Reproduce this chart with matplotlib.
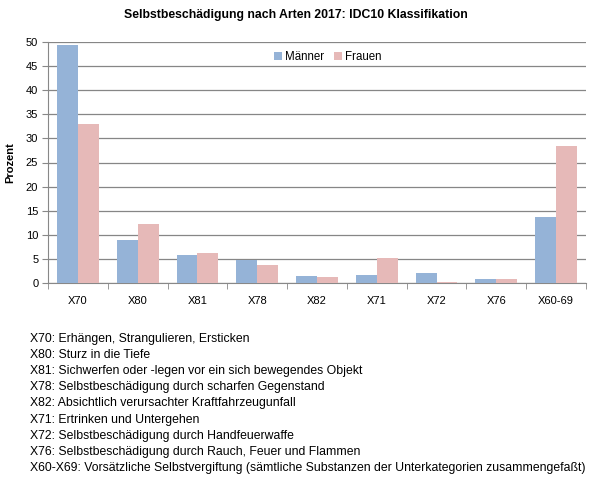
import matplotlib
matplotlib.use("Agg")
import matplotlib.pyplot as plt
import numpy as np

categories = ["X70", "X80", "X81", "X78", "X82", "X71", "X72", "X76", "X60-69"]
maenner = [49.3, 9.0, 5.9, 4.7, 1.5, 1.7, 2.0, 0.75, 13.75]
frauen = [33.0, 12.3, 6.3, 3.8, 1.3, 5.25, 0.3, 0.75, 28.5]
series_names = ["Männer", "Frauen"]
yticks = [0, 5, 10, 15, 20, 25, 30, 35, 40, 45, 50]
notes = [
    "X70: Erhängen, Strangulieren, Ersticken",
    "X80: Sturz in die Tiefe",
    "X81: Sichwerfen oder -legen vor ein sich bewegendes Objekt",
    "X78: Selbstbeschädigung durch scharfen Gegenstand",
    "X82: Absichtlich verursachter Kraftfahrzeugunfall",
    "X71: Ertrinken und Untergehen",
    "X72: Selbstbeschädigung durch Handfeuerwaffe",
    "X76: Selbstbeschädigung durch Rauch, Feuer und Flammen",
    "X60-X69: Vorsätzliche Selbstvergiftung (sämtliche Substanzen der Unterkategorien zusammengefaßt)",
]
title = "Selbstbeschädigung nach Arten 2017: IDC10 Klassifikation"

plt.rcParams['font.family'] = ['Liberation Sans', 'DejaVu Sans']

W, H = 594, 488
fig = plt.figure(figsize=(W / 100, H / 100), dpi=100)
ax = fig.add_axes([48 / W, 1 - 283 / H, (586 - 48) / W, (283 - 42) / H])

blue = "#95B3D7"
pink = "#E6B9B8"
x = np.arange(len(categories))
bw = 0.35
ax.bar(x - bw / 2, maenner, bw, color=blue, label=series_names[0], zorder=3)
ax.bar(x + bw / 2, frauen, bw, color=pink, label=series_names[1], zorder=3)

ax.set_xlim(-0.5, len(categories) - 0.5)
ax.set_ylim(0, 50)
ax.set_yticks(yticks)
ax.set_xticks(x)
ax.set_xticklabels(categories, fontsize=8)
ax.tick_params(axis='x', length=0, pad=9)
ax.set_xticks(np.arange(-0.5, len(categories), 1), minor=True)
ax.tick_params(axis='x', which='minor', length=4, direction='out', color='#888888')
ax.tick_params(axis='y', labelsize=8, length=4, direction='out', color='#888888', pad=3)
ax.yaxis.grid(True, color='#868686', linewidth=0.9, zorder=0)
for s in ['top', 'right']:
    ax.spines[s].set_visible(False)
ax.spines['left'].set_color('#888888')
ax.spines['bottom'].set_color('#888888')
ax.set_ylabel("Prozent", fontsize=8, fontweight='bold', labelpad=8)

leg = ax.legend(loc='upper center', bbox_to_anchor=(0.52, 1.005), ncol=2, frameon=False,
                fontsize=8.3, handlelength=0.7, handleheight=0.7, handletextpad=0.3,
                columnspacing=0.8)

fig.text(296 / W, 1 - 15 / H, title, ha='center', va='center', fontsize=8.8, fontweight='bold')

y0 = 339
for i, line in enumerate(notes):
    fig.text(30 / W, 1 - (y0 + i * 16.1) / H, line, ha='left', va='center', fontsize=8.8)

fig.savefig("out.png", dpi=100)
